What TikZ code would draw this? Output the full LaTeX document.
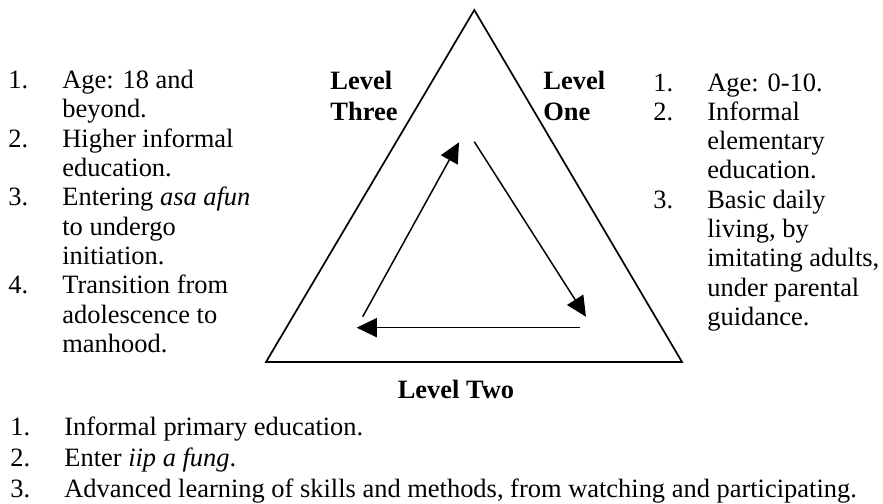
\documentclass[tikz,border=0pt]{standalone}
\usepackage{fontspec}
\setmainfont{Liberation Serif}
\usepackage{array}
\usetikzlibrary{arrows.meta}
\newcommand{\numlist}[2][13.85pt]{\fontsize{12.5pt}{#1}\selectfont\begin{tabular}[t]{@{}p{25.5pt}@{}l@{}}#2\end{tabular}}

\begin{document}
\begin{tikzpicture}[every node/.style={inner sep=0pt, font=\fontsize{12.5pt}{13.85pt}\selectfont},
    lvl/.style={font=\fontsize{12.5pt}{15pt}\selectfont\bfseries},
    cyc/.style={line width=0.7pt, -{Triangle[length=9.5pt, width=9pt]}}]
    \useasboundingbox (0,0) rectangle (14.668,8.372);
    % the triangle
    \coordinate (top) at (7.879,8.206);
    \coordinate (bl) at (4.419,2.359);
    \coordinate (br) at (11.329,2.359);
    \draw[line width=0.8pt] (top) -- (bl) -- (br) -- cycle;
    % cycle arrows inside
    \coordinate (up0) at (6.025,3.111);  \coordinate (up1) at (7.625,6.008);
    \coordinate (dn0) at (7.879,6.018);  \coordinate (dn1) at (9.734,3.111);
    \coordinate (lf0) at (9.635,2.929);  \coordinate (lf1) at (5.925,2.929);
    \draw[cyc] (up0) -- (up1);
    \draw[cyc] (dn0) -- (dn1);
    \draw[cyc] (lf0) -- (lf1);
    % level names
    \node[lvl, anchor=base west] (three) at (5.482,6.89) {\begin{tabular}[t]{@{}l@{}}Level\\Three\end{tabular}};
    \node[lvl, anchor=base west] (one) at (9.020,6.89) {\begin{tabular}[t]{@{}l@{}}Level\\One\end{tabular}};
    \node[lvl, anchor=base] (two) at (7.575,1.75) {Level Two};
    % lists
    \node[anchor=base west] (listthree) at (0.133,6.90) {\numlist{
        1. & Age: 18 and\\ & beyond.\\
        2. & Higher informal\\ & education.\\
        3. & Entering \textit{asa afun}\\ & to undergo\\ & initiation.\\
        4. & Transition from\\ & adolescence to\\ & manhood.}};
    \node[anchor=base west] (listone) at (10.847,6.86) {\numlist{
        1. & Age: 0-10.\\
        2. & Informal\\ & elementary\\ & education.\\
        3. & Basic daily\\ & living, by\\ & imitating adults,\\ & under parental\\ & guidance.}};
    \node[anchor=base west] (listtwo) at (0.166,1.13) {\numlist[14.6pt]{
        1. & Informal primary education.\\
        2. & Enter \textit{iip a fung}.\\
        3. & Advanced learning of skills and methods, from watching and participating.}};
\end{tikzpicture}
\end{document}
